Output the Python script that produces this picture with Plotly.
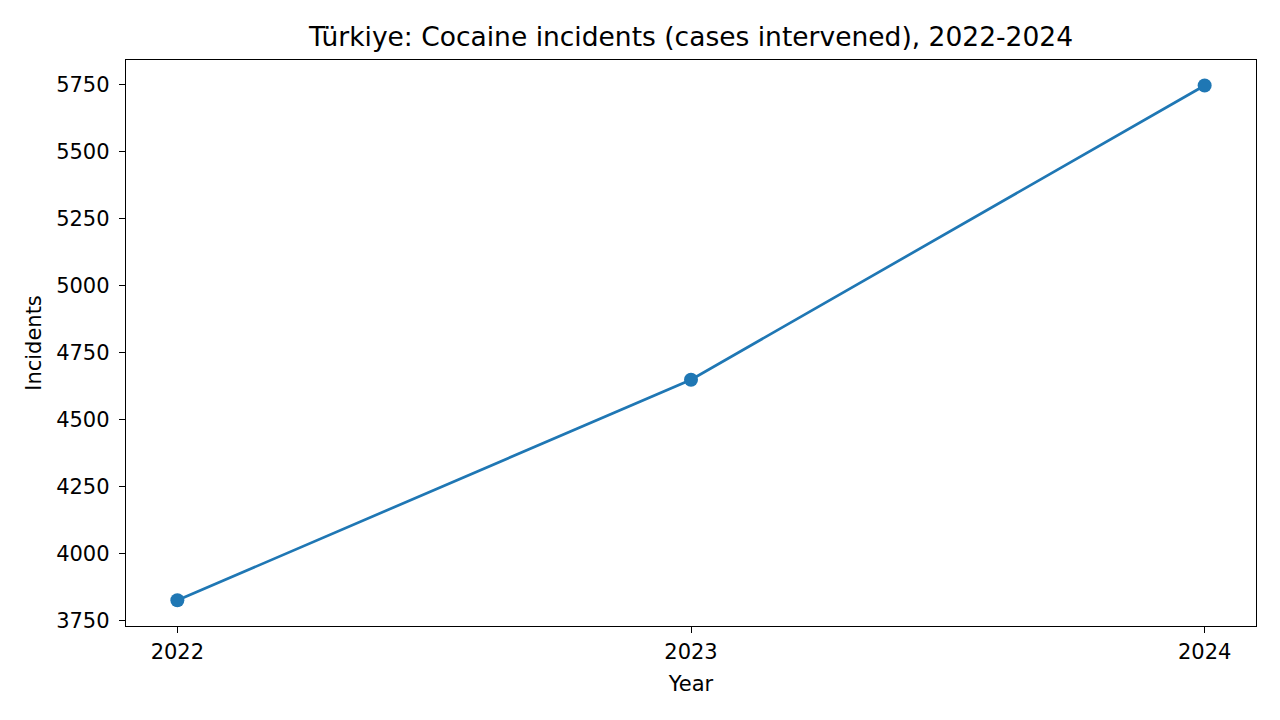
import plotly.graph_objects as go

years = [2022, 2023, 2024]
incidents = [3827, 4650, 5748]
y_ticks = [3750, 4000, 4250, 4500, 4750, 5000, 5250, 5500, 5750]

FONT = "DejaVu Sans"

fig = go.Figure()
fig.add_trace(
    go.Scatter(
        x=years,
        y=incidents,
        mode="lines+markers",
        line=dict(color="#1f77b4", width=2.7),
        marker=dict(color="#1f77b4", size=14),
    )
)

axis_style = dict(
    showline=True,
    linecolor="black",
    linewidth=1.4,
    mirror=True,
    ticks="outside",
    ticklen=6,
    tickwidth=1.4,
    tickcolor="black",
    showgrid=False,
    zeroline=False,
    automargin=False,
    tickfont=dict(family=FONT, size=21, color="black"),
)

fig.update_xaxes(
    **axis_style,
    tickvals=years,
    ticktext=[str(y) for y in years],
    range=[2021.9, 2024.1],
    ticklabelstandoff=1,
    title=dict(text="Year", font=dict(family=FONT, size=21, color="black"), standoff=12),
)
fig.update_yaxes(
    **axis_style,
    tickvals=y_ticks,
    range=[3731, 5843],
    ticklabelstandoff=5,
    title=dict(text="Incidents", font=dict(family=FONT, size=21, color="black"), standoff=8),
)

# page body adds an 8px offset, margins compensate
fig.update_layout(
    width=1280,
    height=720,
    template="plotly_white",
    showlegend=False,
    plot_bgcolor="white",
    paper_bgcolor="white",
    margin=dict(l=118, r=32, t=52, b=102),
    title=dict(
        text="Türkiye: Cocaine incidents (cases intervened), 2022-2024",
        x=0.5,
        xanchor="center",
        xref="paper",
        y=1 - 29 / 720,
        yanchor="middle",
        font=dict(family=FONT, size=26.5, color="black"),
    ),
)

fig.write_html("out.html")
